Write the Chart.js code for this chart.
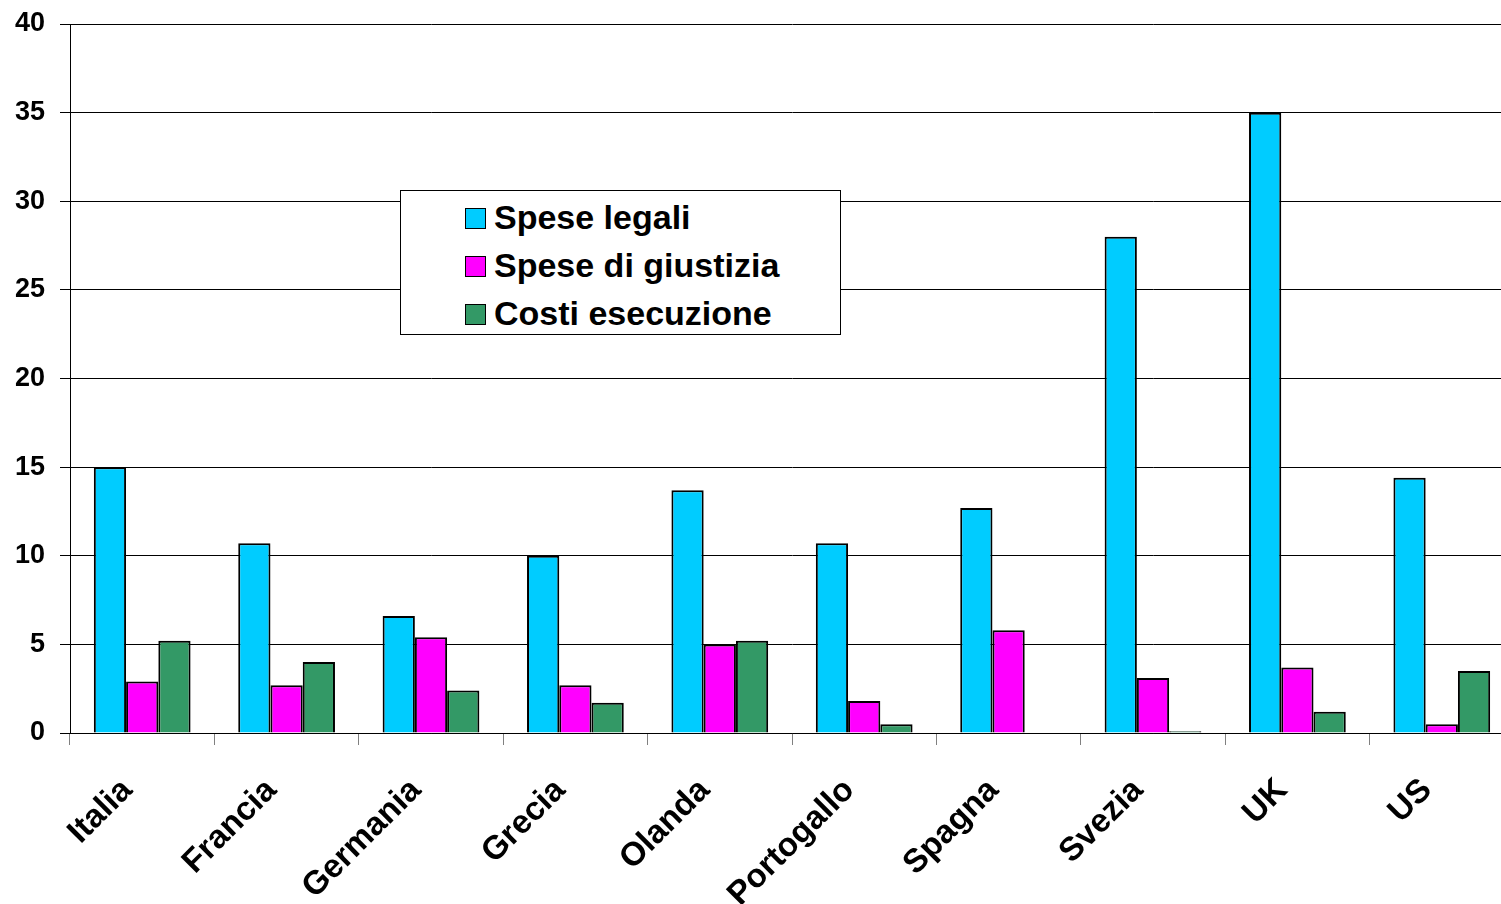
<!DOCTYPE html>
<html>
<head>
<meta charset="utf-8">
<script src="https://cdn.jsdelivr.net/npm/chart.js@4"></script>
<style>
  html, body { margin: 0; padding: 0; background: #fff; overflow: hidden; }
  #wrap { position: relative; width: 1501px; height: 904px; overflow: hidden; }
  #legend {
    position: absolute; left: 400px; top: 190px; width: 439px; height: 143px;
    border: 1px solid #000; background: #fff;
    font-family: "Liberation Sans", Arial, sans-serif; font-weight: bold; font-size: 34px;
  }
  #legend div { position: absolute; left: 64px; height: 40px; line-height: 40px; white-space: nowrap; }
  #legend span.box {
    display: inline-block; width: 19px; height: 19px; border: 1.5px solid #000;
    vertical-align: middle; margin-right: 8px; position: relative; top: -2px;
  }
</style>
</head>
<body>
<div id="wrap">
  <!-- the plot runs a little past the right edge of the picture, so the canvas is wider than the frame -->
  <canvas id="chart" width="1514" height="904"></canvas>
  <div id="legend"></div>
</div>
<script>
const countries = ['Italia', 'Francia', 'Germania', 'Grecia', 'Olanda', 'Portogallo', 'Spagna', 'Svezia', 'UK', 'US'];
const speseLegali = [15, 10.7, 6.6, 10, 13.7, 10.7, 12.7, 28, 35, 14.4];
const speseGiustizia = [2.9, 2.7, 5.4, 2.7, 5.0, 1.8, 5.8, 3.1, 3.7, 0.5];
const costiEsecuzione = [5.2, 4.0, 2.4, 1.7, 5.2, 0.5, 0, 0.1, 1.2, 3.5];
const yTicks = [0, 5, 10, 15, 20, 25, 30, 35, 40];

const seriesNames = ['Spese legali', 'Spese di giustizia', 'Costi esecuzione'];
const seriesColors = ['#00CCFF', '#FF00FF', '#339966'];
const seriesData = [speseLegali, speseGiustizia, costiEsecuzione];

const font = '"Liberation Sans", Arial, sans-serif';

const ctx = document.getElementById('chart').getContext('2d');
const chart = new Chart(ctx, {
    type: 'bar',
    data: {
        labels: countries,
        datasets: seriesNames.map((name, i) => ({
            label: name,
            data: seriesData[i],
            backgroundColor: seriesColors[i],
            borderColor: '#000',
            borderWidth: 2,
            categoryPercentage: 0.67,
            barPercentage: 1.0
        }))
    },
    options: {
        responsive: false,
        animation: false,
        layout: { padding: { top: 24, right: 0, left: 0, bottom: 0 } },
        plugins: {
            legend: { display: false },
            tooltip: { enabled: false }
        },
        scales: {
            x: {
                grid: {
                    offset: true,
                    drawOnChartArea: false,
                    drawTicks: true,
                    tickLength: 12,
                    color: '#808080'
                },
                border: { color: '#000', width: 1 },
                ticks: {
                    color: '#000',
                    font: { family: font, size: 33, weight: 'bold' },
                    maxRotation: 45,
                    minRotation: 45,
                    padding: 26,
                    labelOffset: -15
                },
                afterFit: scale => {
                    scale.height = 171;
                    scale.paddingLeft = 0;
                    scale.paddingRight = 0;
                }
            },
            y: {
                min: 0,
                max: 40,
                grid: { color: '#000', tickLength: 10, lineWidth: 1 },
                border: { color: '#000', width: 1 },
                ticks: {
                    stepSize: 5,
                    color: '#000',
                    padding: 15,
                    font: { family: font, size: 27, weight: 'bold' },
                    callback: v => yTicks.includes(v) ? v : ''
                },
                afterFit: scale => {
                    scale.width = 70;
                    scale.paddingTop = 0;
                    scale.paddingBottom = 0;
                }
            }
        }
    }
});

const legend = document.getElementById('legend');
seriesNames.forEach((name, i) => {
    const row = document.createElement('div');
    row.style.top = (6 + i * 48) + 'px';
    row.innerHTML = '<span class="box" style="background:' + seriesColors[i] + '"></span>' + name;
    legend.appendChild(row);
});
</script>
</body>
</html>
